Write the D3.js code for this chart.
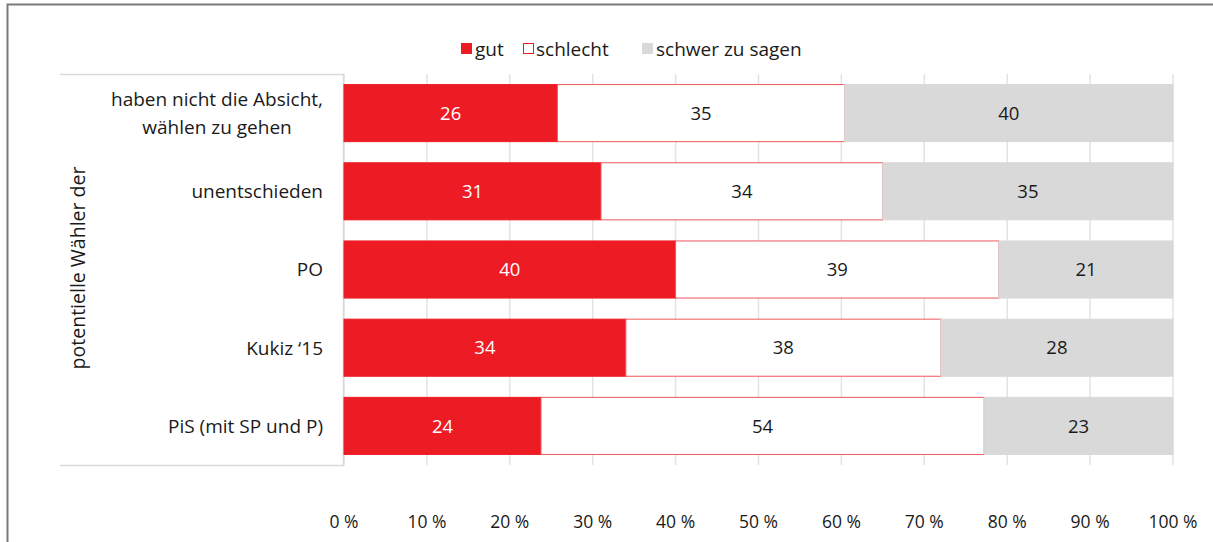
<!DOCTYPE html>
<html>
<head>
<meta charset="utf-8">
<script src="https://cdn.jsdelivr.net/npm/d3@7"></script>
<style>
  body { margin: 0; background: #fff; }
  svg text { font-family: "Open Sans", "Noto Sans", sans-serif; fill: #1a1a1a; }
</style>
</head>
<body>
<div id="chart"></div>
<script>
// data
var categories = ["haben nicht die Absicht,|wählen zu gehen", "unentschieden", "PO", "Kukiz ‘15", "PiS (mit SP und P)"]
var seriesNames = ["gut", "schlecht", "schwer zu sagen"]
var gut = [26, 31, 40, 34, 24]
var schlecht = [35, 34, 39, 38, 54]
var schwer = [40, 35, 21, 28, 23]
var ticks = [0, 10, 20, 30, 40, 50, 60, 70, 80, 90, 100]

var width = 1213, height = 542
var colors = ["#ed1c24", "#ffffff", "#d9d9d9"]
var strokes = ["#ed1c24", "#f0575c", "#d9d9d9"]
var labelColors = ["#ffffff", "#1a1a1a", "#1a1a1a"]

var svg = d3.select("#chart").append("svg")
    .attr("width", width)
    .attr("height", height)

// frame
svg.append("path")
    .attr("d", "M7.5,542 V4.5 H1213")
    .attr("fill", "none")
    .attr("stroke", "#7a7a7a")
    .attr("stroke-width", 2)

var x = d3.scaleLinear().domain([0, 100]).range([344, 1173])
var y = d3.scaleBand().domain(categories).range([74, 465]).paddingInner(0.27).paddingOuter(0.135)

// gridlines
svg.append("g")
    .selectAll("line")
    .data(ticks)
    .enter()
    .append("line")
    .attr("x1", d => x(d)).attr("x2", d => x(d))
    .attr("y1", 74).attr("y2", 465)
    .attr("stroke", "#e3e3e3")
    .attr("stroke-width", 1.5)

// category axis box
svg.append("path")
    .attr("d", "M60,74.5 H343.5 V465.5 H60")
    .attr("fill", "none")
    .attr("stroke", "#d9d9d9")
    .attr("stroke-width", 1.5)

// stack (values normalized to 100 %)
var rows = categories.map(function (c, i) {
    var vals = [gut[i], schlecht[i], schwer[i]]
    var total = d3.sum(vals)
    var start = 0
    return vals.map(function (v, k) {
        var s = start
        start += v / total * 100
        return {cat: c, k: k, value: v, x0: s, x1: start}
    })
})

var bar = svg.append("g")
    .selectAll("g")
    .data(rows)
    .enter()
    .append("g")

bar.selectAll("rect")
    .data(d => d)
    .enter()
    .append("rect")
    .attr("x", d => x(d.x0))
    .attr("y", d => y(d.cat))
    .attr("width", d => x(d.x1) - x(d.x0))
    .attr("height", y.bandwidth())
    .attr("fill", d => colors[d.k])
    .attr("stroke", d => strokes[d.k])
    .attr("stroke-width", 1)

bar.selectAll("text")
    .data(d => d)
    .enter()
    .append("text")
    .attr("x", d => (x(d.x0) + x(d.x1)) / 2)
    .attr("y", d => y(d.cat) + y.bandwidth() / 2)
    .attr("dy", "0.36em")
    .attr("text-anchor", "middle")
    .style("font-size", "18.5px")
    .style("fill", d => labelColors[d.k])
    .text(d => d.value)

// category labels (multi-line ones are centred as a block, right edge at 323)
var catG = svg.append("g")
categories.forEach(function (c) {
    var lines = c.split("|")
    var cy = y(c) + y.bandwidth() / 2
    if (lines.length == 1) {
        catG.append("text")
            .attr("x", 323).attr("y", cy).attr("dy", "0.36em")
            .attr("text-anchor", "end")
            .style("font-size", "19px")
            .text(c)
    } else {
        // measure widest line
        var widths = lines.map(function (l) {
            var t = catG.append("text").style("font-size", "19px").text(l)
            var w = t.node().getComputedTextLength()
            t.remove()
            return w
        })
        var cx = 323 - d3.max(widths) / 2
        lines.forEach(function (l, i) {
            catG.append("text")
                .attr("x", cx)
                .attr("y", cy + (i - (lines.length - 1) / 2) * 28)
                .attr("dy", "0.36em")
                .attr("text-anchor", "middle")
                .style("font-size", "19px")
                .text(l)
        })
    }
})

// group title
svg.append("text")
    .attr("transform", "translate(78,268) rotate(-90)")
    .attr("dy", "0.36em")
    .attr("text-anchor", "middle")
    .style("font-size", "19.5px")
    .text("potentielle Wähler der")

// x axis labels
svg.append("g")
    .selectAll("text")
    .data(ticks)
    .enter()
    .append("text")
    .attr("x", d => x(d))
    .attr("y", 528)
    .attr("text-anchor", "middle")
    .style("font-size", "17.5px")
    .text(d => d + " %")

// legend
var legendX = [461, 523, 642]
var legend = svg.append("g")
    .selectAll("g")
    .data(seriesNames)
    .enter()
    .append("g")
    .attr("transform", (d, i) => "translate(" + legendX[i] + ",43)")

legend.append("rect")
    .attr("x", 0.5).attr("y", 0.5)
    .attr("width", 10).attr("height", 10)
    .attr("fill", (d, i) => colors[i])
    .attr("stroke", (d, i) => i == 1 ? "#ed1c24" : colors[i])

legend.append("text")
    .attr("x", (d, i) => i == 1 ? 13 : 14)
    .attr("y", 6)
    .attr("dy", "0.36em")
    .style("font-size", "19px")
    .text(d => d)
</script>
</body>
</html>
